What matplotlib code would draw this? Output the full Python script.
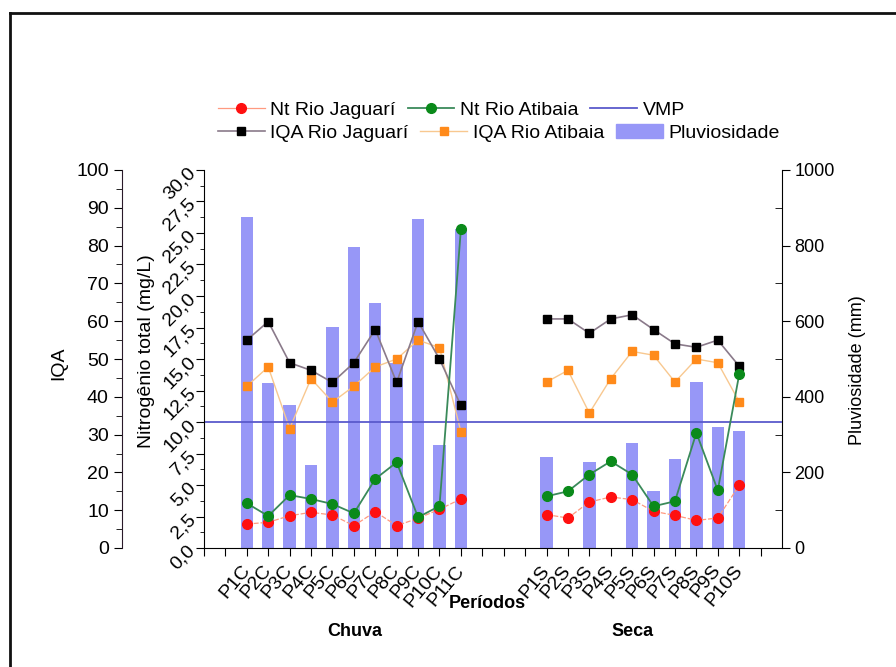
import matplotlib
matplotlib.use('Agg')
import matplotlib.pyplot as plt
from matplotlib.ticker import MultipleLocator, FuncFormatter
from matplotlib.lines import Line2D
from matplotlib.patches import Patch

plt.rcParams['font.family'] = ['Liberation Sans', 'DejaVu Sans']
plt.rcParams['font.size'] = 13

# ---------------- data ----------------
cat_chuva = ['P1C', 'P2C', 'P3C', 'P4C', 'P5C', 'P6C', 'P7C', 'P8C', 'P9C', 'P10C', 'P11C']
cat_seca = ['P1S', 'P2S', 'P3S', 'P4S', 'P5S', 'P6S', 'P7S', 'P8S', 'P9S', 'P10S']

pluv_chuva = [875, 437, 377, 219, 585, 797, 647, 490, 870, 272, 845]
pluv_seca = [240, 0, 227, 0, 279, 152, 236, 440, 319, 310]

iqa_jag_chuva = [55.0, 59.9, 49.0, 47.0, 43.8, 49.0, 57.8, 43.8, 59.9, 50.0, 37.7]
iqa_jag_seca = [60.6, 60.6, 56.8, 60.6, 61.7, 57.8, 54.0, 53.1, 55.0, 48.1]

iqa_ati_chuva = [42.8, 47.9, 31.6, 44.8, 38.6, 42.8, 47.9, 50.0, 55.0, 53.0, 30.8]
iqa_ati_seca = [43.9, 47.0, 35.7, 44.8, 52.0, 51.0, 43.9, 50.0, 49.0, 38.7]

nt_jag_chuva = [1.9, 2.04, 2.56, 2.83, 2.62, 1.77, 2.88, 1.77, 2.36, 3.07, 3.89]
nt_jag_seca = [2.65, 2.38, 3.65, 4.05, 3.84, 2.91, 2.59, 2.19, 2.38, 4.97]

nt_ati_chuva = [3.55, 2.54, 4.2, 3.89, 3.49, 2.75, 5.48, 6.8, 2.44, 3.33, 25.3]
nt_ati_seca = [4.1, 4.5, 5.83, 6.88, 5.83, 3.31, 3.71, 9.14, 4.58, 13.77]

vmp = 10.0

# ---------------- layout ----------------
start_chuva = 2
start_seca = 16
x_chuva = [start_chuva + i for i in range(len(cat_chuva))]
x_seca = [start_seca + i for i in range(len(cat_seca))]

W, H = 896, 667
fig = plt.figure(figsize=(W / 100, H / 100), dpi=100)
L, R, T, B = 204, 782, 170, 548
ax = fig.add_axes([L / W, 1 - B / H, (R - L) / W, (B - T) / H])
ax_i = ax.twinx()
ax_n = ax.twinx()

bar_col = '#9797f7'
c_red, c_redl = '#ff1010', '#ff9a80'
c_grn, c_grnl = '#0a8a1a', '#3a8a5a'
c_blk, c_blkl = '#000000', '#8a7a8a'
c_org, c_orgl = '#ff8a1a', '#f8c890'
c_vmp = '#5a5acc'

# bars (host axes, right scale)
ax.bar(x_chuva, pluv_chuva, width=0.58, color=bar_col, zorder=1)
ax.bar(x_seca, pluv_seca, width=0.58, color=bar_col, zorder=1)
ax.set_ylim(0, 1000)
ax.set_xlim(0, 27)
ax.yaxis.tick_right()
ax.yaxis.set_label_position('right')
ax.yaxis.set_major_locator(MultipleLocator(200))
ax.yaxis.set_minor_locator(MultipleLocator(100))
ax.tick_params(axis='y', which='major', direction='out', length=6, pad=3, labelsize=13)
ax.tick_params(axis='y', which='minor', direction='in', length=5)
ax.set_ylabel('Pluviosidade (mm)', fontsize=13)
ax.yaxis.set_label_coords((849 - L) / (R - L), 0.47)
ax.spines['left'].set_visible(False)
ax.spines['top'].set_visible(False)

ticks = list(range(27))
labmap = {x: c for x, c in zip(x_chuva, cat_chuva)}
labmap.update({x: c for x, c in zip(x_seca, cat_seca)})
ax.set_xticks(ticks)
ax.set_xticklabels([labmap.get(t, '') for t in ticks], rotation=50, ha='right',
                   va='center', rotation_mode='anchor', fontsize=14)
ax.tick_params(axis='x', direction='out', length=6, pad=8)

# IQA axis (offset left spine)
for xs, ys in ((x_chuva, iqa_jag_chuva), (x_seca, iqa_jag_seca)):
    ax_i.plot(xs, ys, color=c_blkl, lw=1.2, marker='s', ms=6, mfc=c_blk, mec=c_blk, zorder=3)
for xs, ys in ((x_chuva, iqa_ati_chuva), (x_seca, iqa_ati_seca)):
    ax_i.plot(xs, ys, color=c_orgl, lw=1.0, marker='s', ms=6, mfc=c_org, mec=c_org, zorder=2)
ax_i.set_ylim(0, 100)
ax_i.yaxis.tick_left()
ax_i.yaxis.set_label_position('left')
ax_i.spines['left'].set_position(('axes', -82 / (R - L)))
ax_i.spines['left'].set_color('#2a1a2a')
for s in ('right', 'top', 'bottom'):
    ax_i.spines[s].set_visible(False)
ax_i.yaxis.set_major_locator(MultipleLocator(10))
ax_i.yaxis.set_minor_locator(MultipleLocator(5))
ax_i.tick_params(axis='y', which='major', length=6, labelsize=14)
ax_i.tick_params(axis='y', which='minor', length=4)
ax_i.set_ylabel('IQA', fontsize=14)
ax_i.yaxis.set_label_coords((67 - L) / (R - L), 0.49)
ax_i.patch.set_visible(False)

# Nitrogen axis
ax_n.axhline(vmp, color=c_vmp, lw=1.3, zorder=2)
for xs, ys in ((x_chuva, nt_jag_chuva), (x_seca, nt_jag_seca)):
    ax_n.plot(xs, ys, color=c_redl, lw=0.9, ls=(0, (4, 1.5)), marker='o', ms=7, mfc=c_red, mec=c_red, zorder=3)
for xs, ys in ((x_chuva, nt_ati_chuva), (x_seca, nt_ati_seca)):
    ax_n.plot(xs, ys, color=c_grnl, lw=1.3, marker='o', ms=7, mfc=c_grn, mec=c_grn, zorder=4)
ax_n.set_ylim(0, 30)
ax_n.yaxis.tick_left()
ax_n.yaxis.set_label_position('left')
for s in ('right', 'top', 'bottom'):
    ax_n.spines[s].set_visible(False)
ax_n.yaxis.set_major_locator(MultipleLocator(2.5))
ax_n.yaxis.set_minor_locator(MultipleLocator(1.25))
ax_n.yaxis.set_major_formatter(FuncFormatter(lambda v, p: f'{v:.1f}'.replace('.', ',')))
ax_n.tick_params(axis='y', which='major', length=6, pad=2, labelsize=14)
ax_n.tick_params(axis='y', which='minor', length=3)
for lab in ax_n.get_yticklabels():
    lab.set_rotation(45)
    lab.set_rotation_mode('anchor')
    lab.set_ha('right')
    lab.set_va('center')
ax_n.set_ylabel('Nitrogênio total (mg/L)', fontsize=14)
ax_n.yaxis.set_label_coords((155 - L) / (R - L), 0.52)
ax_n.patch.set_visible(False)

# text labels below
fig.text(487 / W, 1 - 603 / H, 'Períodos', ha='center', va='center', fontweight='bold', fontsize=13)
fig.text(355 / W, 1 - 631 / H, 'Chuva', ha='center', va='center', fontweight='bold', fontsize=13)
fig.text(633 / W, 1 - 631 / H, 'Seca', ha='center', va='center', fontweight='bold', fontsize=13)

# legends (two rows)
h_ntj = Line2D([], [], color=c_redl, lw=0.9, marker='o', ms=7, mfc=c_red, mec=c_red)
h_nta = Line2D([], [], color=c_grnl, lw=1.3, marker='o', ms=7, mfc=c_grn, mec=c_grn)
h_vmp = Line2D([], [], color=c_vmp, lw=1.3)
h_iqj = Line2D([], [], color=c_blkl, lw=1.2, marker='s', ms=6, mfc=c_blk, mec=c_blk)
h_iqa = Line2D([], [], color=c_orgl, lw=1.0, marker='s', ms=6, mfc=c_org, mec=c_org)
h_plv = Patch(color=bar_col)
kw = dict(frameon=False, fontsize=14, handlelength=2.4, handletextpad=0.3,
          columnspacing=0.6, borderaxespad=0, borderpad=0, loc='center left')
leg1 = fig.legend([h_ntj, h_nta, h_vmp], ['Nt Rio Jaguarí', 'Nt Rio Atibaia', 'VMP'],
                  ncol=3, bbox_to_anchor=(218 / W, 1 - 110 / H), **kw)
leg2 = fig.legend([h_iqj, h_iqa, h_plv], ['IQA Rio Jaguarí', 'IQA Rio Atibaia', 'Pluviosidade'],
                  ncol=3, bbox_to_anchor=(218 / W, 1 - 133 / H), **kw)

# figure border (top and left)
fig.add_artist(Line2D([10 / W, 10 / W], [0, 1 - 13 / H], transform=fig.transFigure, color='#111111', lw=2))
fig.add_artist(Line2D([10 / W, 1], [1 - 13 / H, 1 - 13 / H], transform=fig.transFigure, color='#111111', lw=2))

fig.savefig('out.png', dpi=100)
